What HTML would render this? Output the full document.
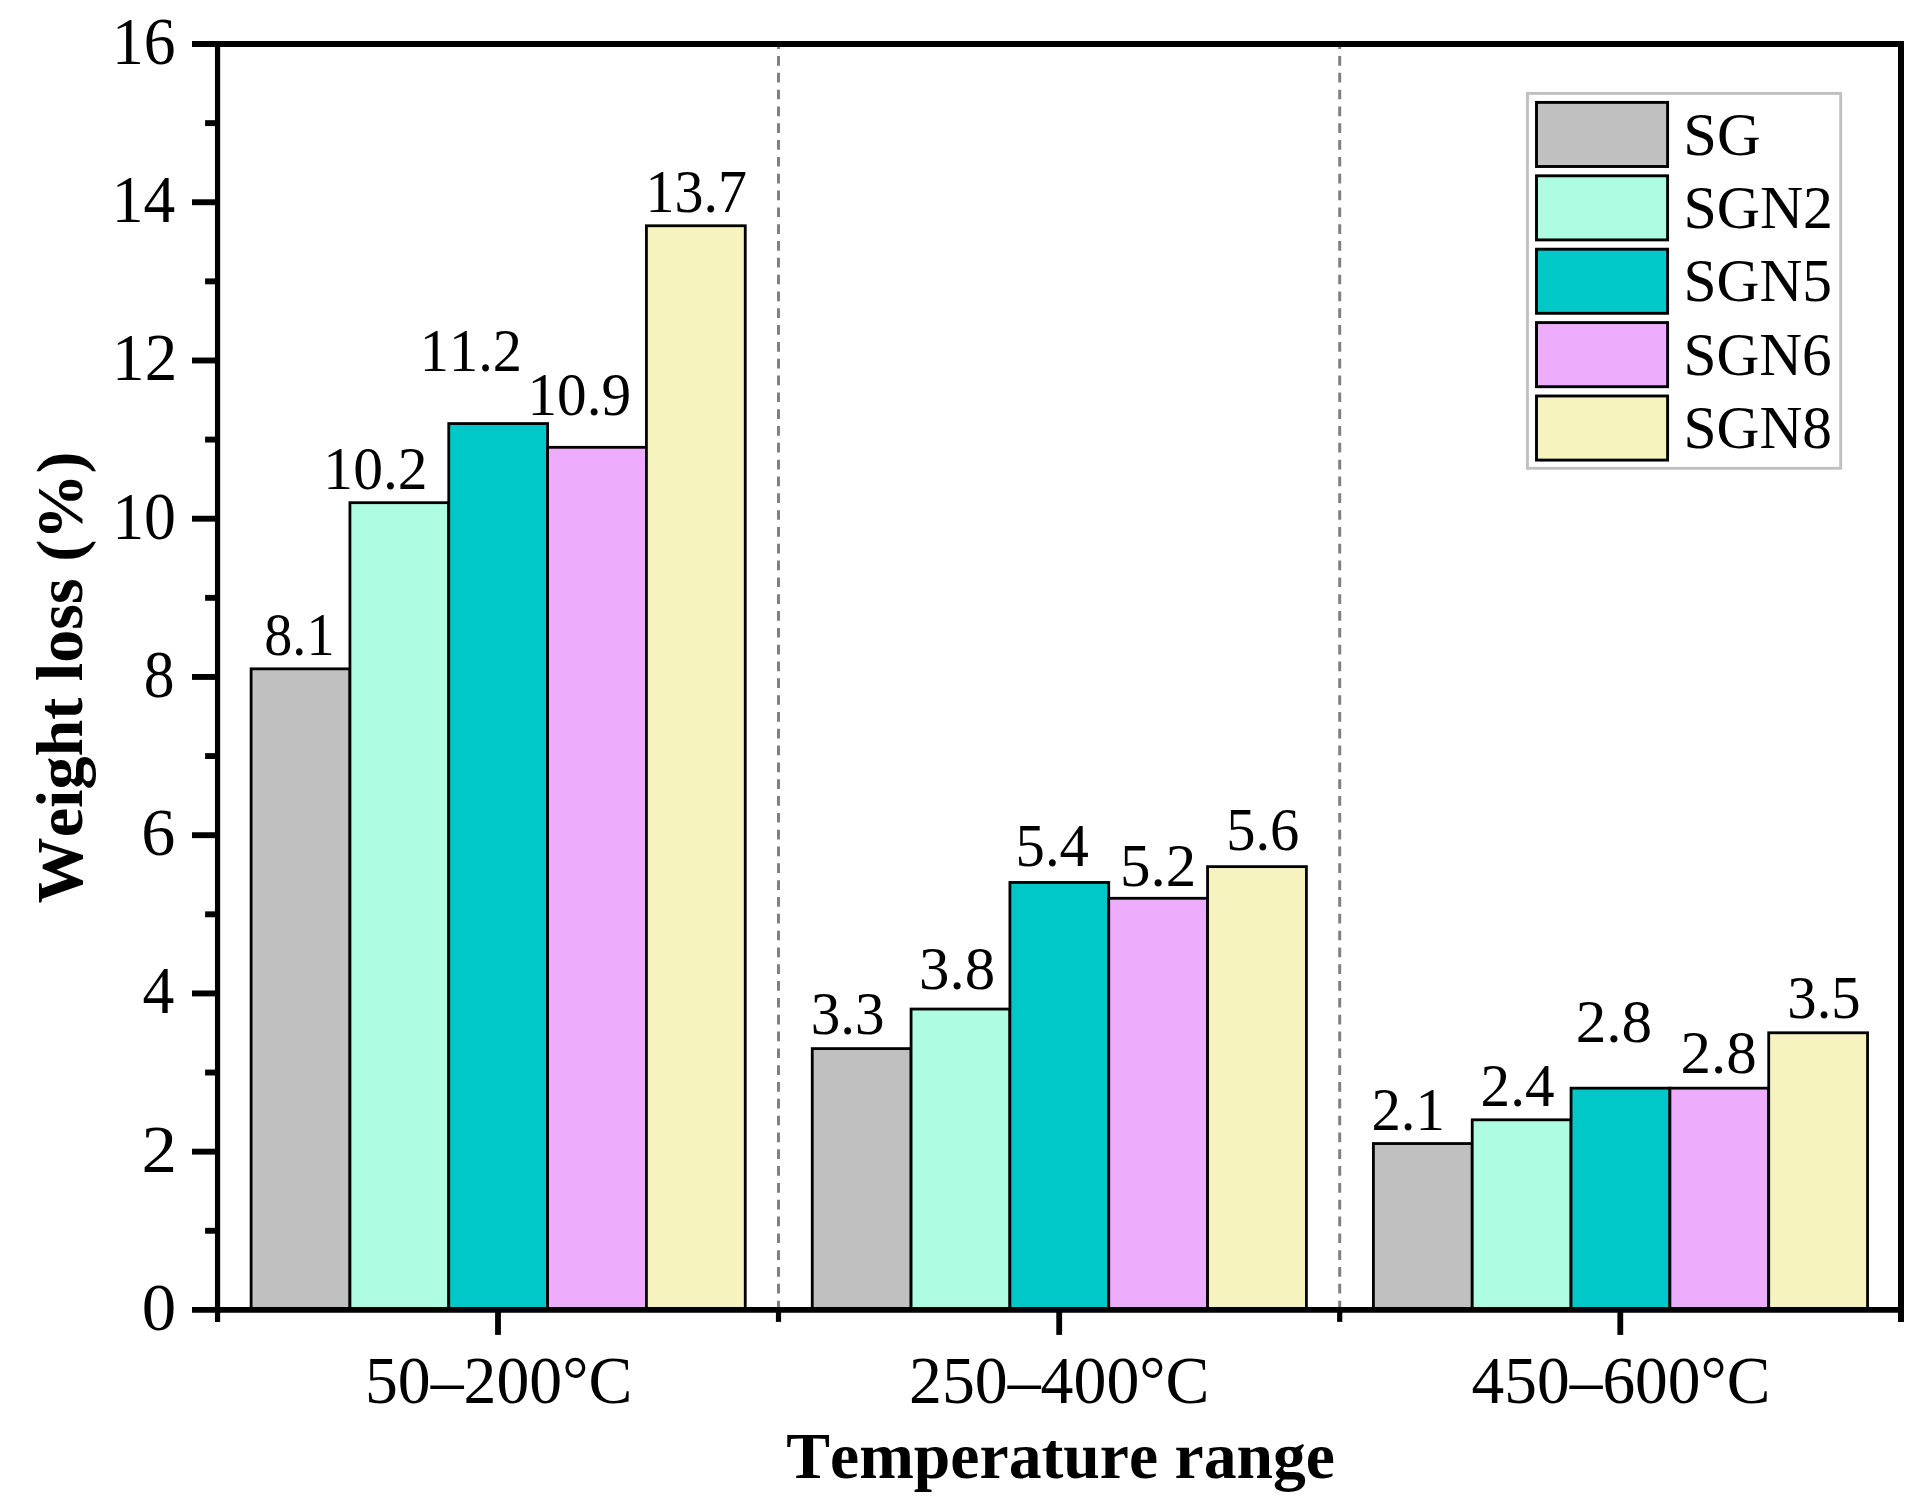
<!DOCTYPE html>
<html lang="en">
<head>
<meta charset="utf-8">
<title>Weight loss by temperature range</title>
<style>
html,body{margin:0;padding:0;background:#fff;}
body{width:1928px;height:1510px;overflow:hidden;}
svg{display:block;}
text{font-family:"Liberation Serif","Times New Roman",Times,serif;fill:#000;font-kerning:none;}
.b{font-weight:bold;}
</style>
</head>
<body>
<svg width="1928" height="1510" viewBox="0 0 1928 1510">
<rect x="0" y="0" width="1928" height="1510" fill="#ffffff"/>
<line x1="778.5" y1="44.0" x2="778.5" y2="1309.9" stroke="#808080" stroke-width="3" stroke-dasharray="9.7 7.12" stroke-dashoffset="4.82"/>
<line x1="1339.7" y1="44.0" x2="1339.7" y2="1309.9" stroke="#808080" stroke-width="3" stroke-dasharray="9.7 7.12" stroke-dashoffset="4.82"/>
<rect x="251.10" y="668.84" width="98.83" height="641.06" fill="#C0C0C0" stroke="#000" stroke-width="2.8"/>
<rect x="349.93" y="502.69" width="98.83" height="807.21" fill="#AEFCE2" stroke="#000" stroke-width="2.8"/>
<rect x="448.76" y="423.57" width="98.83" height="886.33" fill="#00C8C8" stroke="#000" stroke-width="2.8"/>
<rect x="547.59" y="447.31" width="98.83" height="862.59" fill="#EDADFC" stroke="#000" stroke-width="2.8"/>
<rect x="646.42" y="225.77" width="98.83" height="1084.13" fill="#F7F3BF" stroke="#000" stroke-width="2.8"/>
<rect x="812.25" y="1048.61" width="98.83" height="261.29" fill="#C0C0C0" stroke="#000" stroke-width="2.8"/>
<rect x="911.08" y="1009.05" width="98.83" height="300.85" fill="#AEFCE2" stroke="#000" stroke-width="2.8"/>
<rect x="1009.91" y="882.46" width="98.83" height="427.44" fill="#00C8C8" stroke="#000" stroke-width="2.8"/>
<rect x="1108.74" y="898.28" width="98.83" height="411.62" fill="#EDADFC" stroke="#000" stroke-width="2.8"/>
<rect x="1207.57" y="866.63" width="98.83" height="443.27" fill="#F7F3BF" stroke="#000" stroke-width="2.8"/>
<rect x="1373.40" y="1143.55" width="98.83" height="166.35" fill="#C0C0C0" stroke="#000" stroke-width="2.8"/>
<rect x="1472.23" y="1119.82" width="98.83" height="190.08" fill="#AEFCE2" stroke="#000" stroke-width="2.8"/>
<rect x="1571.06" y="1088.17" width="98.83" height="221.73" fill="#00C8C8" stroke="#000" stroke-width="2.8"/>
<rect x="1669.89" y="1088.17" width="98.83" height="221.73" fill="#EDADFC" stroke="#000" stroke-width="2.8"/>
<rect x="1768.72" y="1032.78" width="98.83" height="277.12" fill="#F7F3BF" stroke="#000" stroke-width="2.8"/>
<text transform="translate(264.26,654.80) scale(0.9208,1)" font-size="61.0">8.1</text>
<text transform="translate(323.36,488.70) scale(0.9773,1)" font-size="61.0">10.2</text>
<text transform="translate(419.87,371.20) scale(0.9569,1)" font-size="61.0">11.2</text>
<text transform="translate(527.49,414.50) scale(0.9718,1)" font-size="61.0">10.9</text>
<text transform="translate(645.60,212.10) scale(0.9505,1)" font-size="61.0">13.7</text>
<text transform="translate(810.67,1034.00) scale(0.9697,1)" font-size="61.0">3.3</text>
<text transform="translate(918.99,989.00) scale(0.9985,1)" font-size="61.0">3.8</text>
<text transform="translate(1015.59,866.30) scale(0.9616,1)" font-size="61.0">5.4</text>
<text transform="translate(1120.06,885.70) scale(0.9994,1)" font-size="61.0">5.2</text>
<text transform="translate(1226.20,849.90) scale(0.9593,1)" font-size="61.0">5.6</text>
<text transform="translate(1371.42,1129.90) scale(0.9642,1)" font-size="61.0">2.1</text>
<text transform="translate(1480.60,1105.60) scale(0.9695,1)" font-size="61.0">2.4</text>
<text transform="translate(1575.71,1042.30) scale(1.0036,1)" font-size="61.0">2.8</text>
<text transform="translate(1680.42,1073.30) scale(0.9994,1)" font-size="61.0">2.8</text>
<text transform="translate(1787.29,1018.00) scale(0.9627,1)" font-size="61.0">3.5</text>
<line x1="192.00" y1="44.00" x2="1904.00" y2="44.00" stroke="#000" stroke-width="5.9"/>
<line x1="192.00" y1="1309.90" x2="1904.00" y2="1309.90" stroke="#000" stroke-width="5.9"/>
<line x1="217.56" y1="41.05" x2="217.56" y2="1321.90" stroke="#000" stroke-width="5.2"/>
<line x1="1901.00" y1="41.05" x2="1901.00" y2="1321.90" stroke="#000" stroke-width="6.0"/>
<text transform="translate(141.68,1329.90) scale(1.0087,1)" font-size="68.3">0</text>
<line x1="205.1" y1="1230.78" x2="217.6" y2="1230.78" stroke="#000" stroke-width="5.9"/>
<line x1="192" y1="1151.66" x2="217.6" y2="1151.66" stroke="#000" stroke-width="5.9"/>
<text transform="translate(141.54,1171.66) scale(1.0400,1)" font-size="68.3">2</text>
<line x1="205.1" y1="1072.54" x2="217.6" y2="1072.54" stroke="#000" stroke-width="5.9"/>
<line x1="192" y1="993.43" x2="217.6" y2="993.43" stroke="#000" stroke-width="5.9"/>
<text transform="translate(142.46,1013.43) scale(0.9323,1)" font-size="68.3">4</text>
<line x1="205.1" y1="914.31" x2="217.6" y2="914.31" stroke="#000" stroke-width="5.9"/>
<line x1="192" y1="835.19" x2="217.6" y2="835.19" stroke="#000" stroke-width="5.9"/>
<text transform="translate(141.27,855.19) scale(0.9972,1)" font-size="68.3">6</text>
<line x1="205.1" y1="756.07" x2="217.6" y2="756.07" stroke="#000" stroke-width="5.9"/>
<line x1="192" y1="676.95" x2="217.6" y2="676.95" stroke="#000" stroke-width="5.9"/>
<text transform="translate(143.78,696.95) scale(0.9000,1)" font-size="68.3">8</text>
<line x1="205.1" y1="597.83" x2="217.6" y2="597.83" stroke="#000" stroke-width="5.9"/>
<line x1="192" y1="518.71" x2="217.6" y2="518.71" stroke="#000" stroke-width="5.9"/>
<text transform="translate(112.19,538.71) scale(0.9347,1)" font-size="68.3">10</text>
<line x1="205.1" y1="439.59" x2="217.6" y2="439.59" stroke="#000" stroke-width="5.9"/>
<line x1="192" y1="360.48" x2="217.6" y2="360.48" stroke="#000" stroke-width="5.9"/>
<text transform="translate(112.08,380.48) scale(0.9534,1)" font-size="68.3">12</text>
<line x1="205.1" y1="281.36" x2="217.6" y2="281.36" stroke="#000" stroke-width="5.9"/>
<line x1="192" y1="202.24" x2="217.6" y2="202.24" stroke="#000" stroke-width="5.9"/>
<text transform="translate(111.65,222.24) scale(0.9300,1)" font-size="68.3">14</text>
<line x1="205.1" y1="123.12" x2="217.6" y2="123.12" stroke="#000" stroke-width="5.9"/>
<text transform="translate(112.10,64.00) scale(0.9300,1)" font-size="68.3">16</text>
<line x1="778.5" y1="1309.9" x2="778.5" y2="1321.9" stroke="#000" stroke-width="5.2"/>
<line x1="1339.7" y1="1309.9" x2="1339.7" y2="1321.9" stroke="#000" stroke-width="5.2"/>
<line x1="498.0" y1="1309.9" x2="498.0" y2="1334.9" stroke="#000" stroke-width="5.8"/>
<line x1="1059.2" y1="1309.9" x2="1059.2" y2="1334.9" stroke="#000" stroke-width="5.8"/>
<line x1="1620.3" y1="1309.9" x2="1620.3" y2="1334.9" stroke="#000" stroke-width="5.8"/>
<text transform="translate(364.88,1403.00) scale(0.9628,1)" font-size="68.3">50–200°C</text>
<text transform="translate(909.06,1403.00) scale(0.9633,1)" font-size="68.3">250–400°C</text>
<text transform="translate(1471.62,1403.00) scale(0.9576,1)" font-size="68.3">450–600°C</text>
<text class="b" transform="translate(786.27,1477.70) scale(0.9887,1)" font-size="66.4">Temperature range</text>
<text class="b" transform="translate(82.00,903.44) rotate(-90) scale(0.9963,1)" font-size="66.4">Weight loss (%)</text>
<rect x="1527.45" y="93.4" width="313.25" height="374.9" fill="#fff" stroke="#C0C0C0" stroke-width="2.9"/>
<rect x="1536.5" y="102.4" width="131.1" height="64.1" fill="#C0C0C0" stroke="#000" stroke-width="2.9"/>
<text transform="translate(1683.35,154.60) scale(0.9886,1)" font-size="61.2">SG</text>
<rect x="1536.5" y="175.8" width="131.1" height="64.1" fill="#AEFCE2" stroke="#000" stroke-width="2.9"/>
<text transform="translate(1683.39,228.00) scale(0.9783,1)" font-size="61.2">SGN2</text>
<rect x="1536.5" y="249.2" width="131.1" height="64.1" fill="#00C8C8" stroke="#000" stroke-width="2.9"/>
<text transform="translate(1683.42,301.40) scale(0.9717,1)" font-size="61.2">SGN5</text>
<rect x="1536.5" y="322.6" width="131.1" height="64.1" fill="#EDADFC" stroke="#000" stroke-width="2.9"/>
<text transform="translate(1683.44,374.80) scale(0.9680,1)" font-size="61.2">SGN6</text>
<rect x="1536.5" y="396.0" width="131.1" height="64.1" fill="#F7F3BF" stroke="#000" stroke-width="2.9"/>
<text transform="translate(1683.42,448.20) scale(0.9713,1)" font-size="61.2">SGN8</text>
</svg>
</body>
</html>
